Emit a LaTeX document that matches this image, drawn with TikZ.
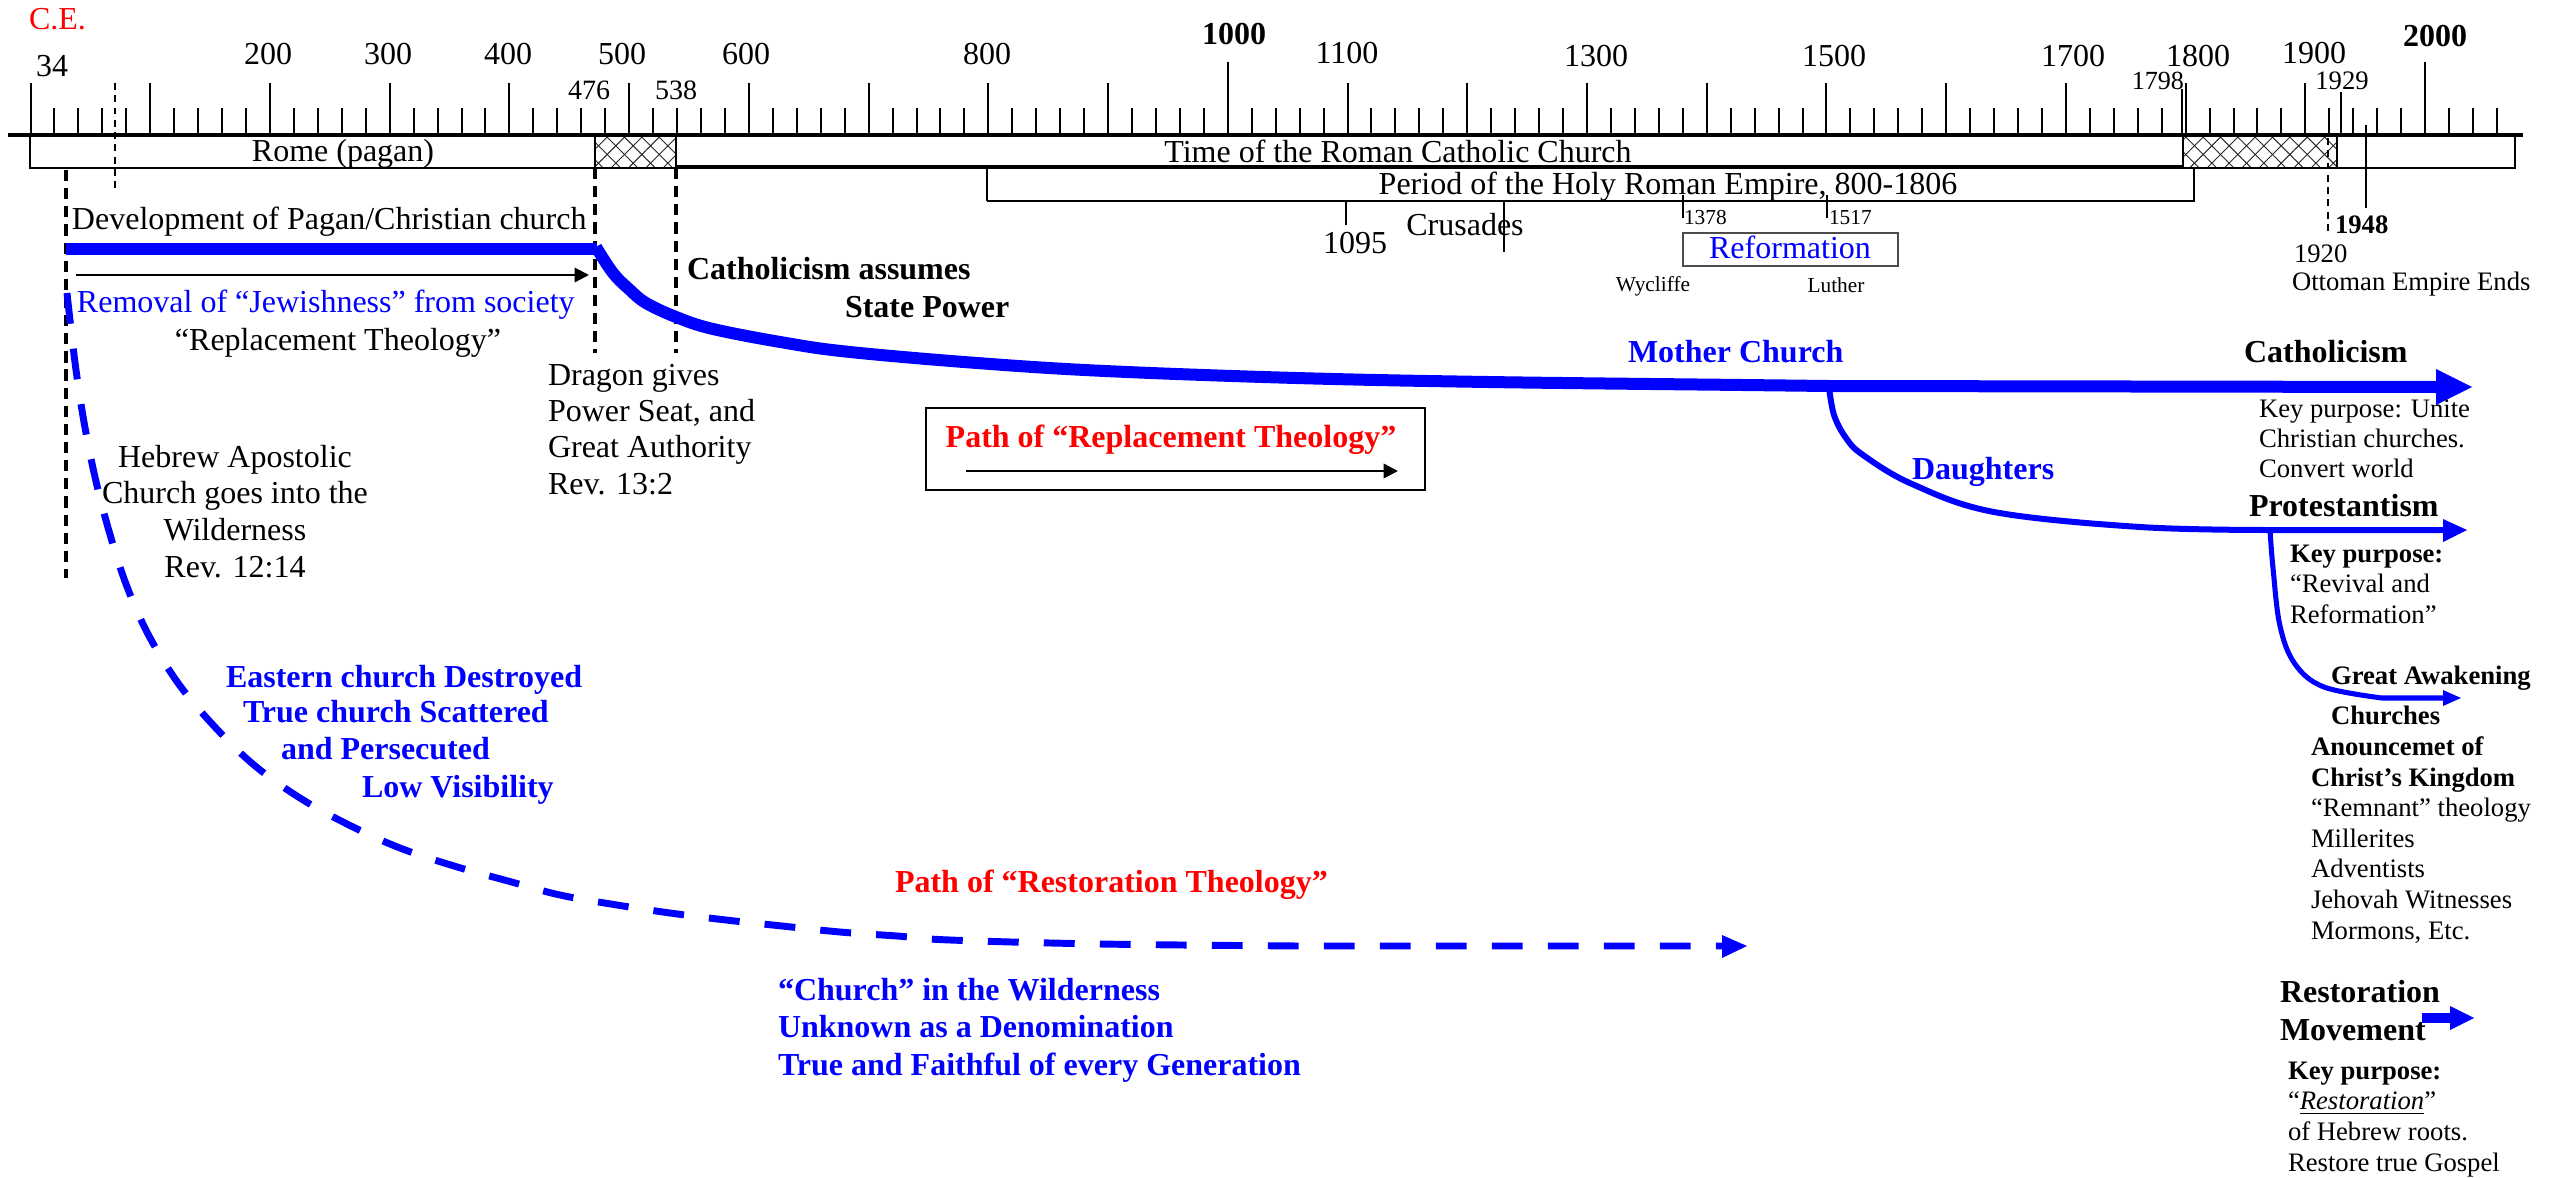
\documentclass[tikz,border=0pt]{standalone}
\usepackage{fontspec}
\setmainfont{Liberation Serif}
\usetikzlibrary{patterns.meta,arrows.meta}
\definecolor{pblue}{RGB}{0,0,255}
\definecolor{pred}{RGB}{255,0,0}
\begin{document}
\begin{tikzpicture}[x=0.375pt,y=-0.375pt,
  every node/.style={inner sep=0pt,outer sep=0pt},
  fA/.style={font=\fontsize{12}{13.8}\selectfont},
  fAb/.style={font=\fontsize{12}{13.8}\selectfont\bfseries},
  fB/.style={font=\fontsize{10}{11.4}\selectfont},
  fBb/.style={font=\fontsize{10}{11.4}\selectfont\bfseries},
  fN/.style={font=\fontsize{10.5}{12}\selectfont},
  fC/.style={font=\fontsize{8}{9.6}\selectfont},
  tick/.style={line width=0.75pt},
  thin/.style={line width=0.4pt},
  bdash/.style={line width=1.3pt,dash pattern=on 4.2pt off 2.6pt},
  hatchA/.style={pattern={Lines[angle=45,distance=4.6pt,line width=0.35pt]},pattern color=black!85},
  hatchB/.style={pattern={Lines[angle=-45,distance=4.6pt,line width=0.35pt]},pattern color=black!85},
  arr/.style={line width=0.8pt,-{Triangle[length=5.4pt,width=5.4pt]}},
]
\useasboundingbox (0,0) rectangle (2561,1178);

% ---------- timeline boxes ----------
\draw[line width=0.6pt] (30,135) rectangle (595,168);
\fill[hatchA] (595,135) rectangle (676,168);
\fill[hatchB] (595,135) rectangle (676,168);
\draw[line width=1.1pt] (595,135) rectangle (676,168);
\draw[line width=1.3pt] (676,167) -- (2183,167);
\fill[hatchA] (2183,135) rectangle (2337,168);
\fill[hatchB] (2183,135) rectangle (2337,168);
\draw[line width=1.1pt] (2183,135) rectangle (2337,168);
\draw[line width=1.1pt] (2337,135) rectangle (2515,168);
% Holy Roman Empire box
\draw[line width=0.6pt] (987,168) -- (987,201);
\draw[line width=1pt] (987,201) -- (2194,201) -- (2194,168);

% ---------- ticks ----------
\foreach \yr in {0,20,...,2060}{
  \pgfmathtruncatemacro{\mm}{mod(\yr,100)}
  \pgfmathsetmacro{\tktop}{ifthenelse(\mm==0,83,108)}
  \draw[tick] ({30.5+1.1973*\yr},\tktop) -- ({30.5+1.1973*\yr},135);
}
\draw[tick] ({30.5+1.1973*1000},62) -- ({30.5+1.1973*1000},135);
\draw[tick] ({30.5+1.1973*2000},62) -- ({30.5+1.1973*2000},135);
\draw[line width=1.3pt] (8,135) -- (2523,135);

% thin marker lines
\draw[thin] (2182,89) -- (2182,135);
\draw[thin] (2341,92) -- (2341,135);
\draw[line width=0.5pt] (2366,125) -- (2366,208);
\draw[line width=0.45pt,dash pattern=on 2.6pt off 2pt] (2328,138) -- (2328,232);
\draw[line width=0.45pt,dash pattern=on 2.6pt off 2pt] (115,83) -- (115,192);
\draw[thin] (1346,201) -- (1346,225);
\draw[thin] (1504,202) -- (1504,252);
\draw[thin] (1683,195) -- (1683,218);
\draw[thin] (1827,195) -- (1827,218);
\draw[line width=0.5pt,black!70] (1683,233) rectangle (1898,266);

% ---------- year labels ----------
\node[fA,text=pred,anchor=base west] (ce) at (29,30) {C.E.};
\node[fA,anchor=base west] (y34) at (36,76) {34};
\node[fA,anchor=base] (y200) at (268,65) {200};
\node[fA,anchor=base] (y300) at (388,65) {300};
\node[fA,anchor=base] (y400) at (508,65) {400};
\node[fA,anchor=base] (y500) at (622,65) {500};
\node[fA,anchor=base] (y600) at (746,65) {600};
\node[fA,anchor=base] (y800) at (987,64) {800};
\node[fAb,anchor=base] (y1000) at (1234,44) {1000};
\node[fA,anchor=base] (y1100) at (1347,63) {1100};
\node[fA,anchor=base] (y1300) at (1596,66) {1300};
\node[fA,anchor=base] (y1500) at (1834,67) {1500};
\node[fA,anchor=base] (y1700) at (2073,67) {1700};
\node[fA,anchor=base] (y1800) at (2198,66) {1800};
\node[fA,anchor=base] (y1900) at (2314,63) {1900};
\node[fAb,anchor=base] (y2000) at (2435,46) {2000};
\node[fN,anchor=base] (y476) at (589,100) {476};
\node[fN,anchor=base] (y538) at (676,100) {538};
\node[font=\fontsize{9.8}{11}\selectfont,anchor=base east] (y1798) at (2184,89) {1798};
\node[fB,anchor=base] (y1929) at (2342,89) {1929};

% ---------- box labels ----------
\node[fA,anchor=base] (rome) at (343,161) {Rome (pagan)};
\node[fA,anchor=base] (rcc) at (1398,162) {Time of the Roman Catholic Church};
\node[fA,anchor=base] (hre) at (1668,194) {Period of the Holy Roman Empire, 800-1806};
\node[fA,anchor=base] (y1095) at (1355,253) {1095};
\node[fA,anchor=base] (crus) at (1465,235) {Crusades};
\node[fC,anchor=base west] (y1378) at (1684,224) {1378};
\node[fC,anchor=base west] (y1517) at (1829,224) {1517};
\node[fA,text=pblue,anchor=base] (reform) at (1790,258) {Reformation};
\node[fC,anchor=base] (wyc) at (1653,291) {Wycliffe};
\node[fC,anchor=base] (luth) at (1836,292) {Luther};
\node[fBb,anchor=base west] (y1948) at (2335,233) {1948};
\node[fB,anchor=base west] (y1920) at (2294,262) {1920};
\node[fB,anchor=base west] (ott) at (2292,290) {Ottoman Empire Ends};

% ---------- vertical dashed lines ----------
\draw[bdash] (66,170) -- (66,578);
\draw[bdash] (595,168) -- (595,353);
\draw[bdash] (676,168) -- (676,353);

% ---------- blue paths ----------
\draw[pblue,line width=4.5pt] (66,249) -- (597,249);
\draw[pblue,line width=4.5pt] plot[smooth,tension=0.6] coordinates {(596,247) (613,273) (630,290) (646,303) (676,317) (713,329) (786,343) (850,352) (977,363) (1105,371) (1296,378) (1488,382) (1743,385) (1829,386)} -- (2437,387);
\fill[pblue] (2436,369) -- (2472,387) -- (2436,405) -- cycle;

\draw[pblue,line width=2.25pt] plot[smooth,tension=0.6] coordinates {(1829,387) (1834,415) (1846,438) (1863,455) (1912,484) (1994,512) (2140,527) (2266,530)} -- (2444,530);
\fill[pblue] (2443,519) -- (2467,530) -- (2443,542) -- cycle;

\draw[pblue,line width=1.9pt] plot[smooth,tension=0.6] coordinates {(2270,530) (2273,568) (2280,626) (2295,664) (2324,687) (2382,698)} -- (2444,698);
\fill[pblue] (2443,690) -- (2461,698) -- (2443,706) -- cycle;

\fill[pblue] (2422,1013) rectangle (2451,1023);
\fill[pblue] (2450,1006) -- (2474,1018) -- (2450,1030) -- cycle;

\draw[pblue,line width=2.6pt,dash pattern=on 11.6pt off 9.4pt] plot[smooth,tension=0.6] coordinates {(67,293) (70,320) (76,370) (84,422) (95,477) (109,531) (126,584) (148,634) (178,683) (214,726) (254,765) (300,798) (349,825) (400,848) (454,866) (508,881) (560,895) (617,905) (670,913) (726,920) (782,926) (840,932) (897,936) (950,940) (1100,944) (1300,946)} -- (1722,946);
\fill[pblue] (1722,935) -- (1747,946) -- (1722,958) -- cycle;

% ---------- black arrows ----------
\coordinate (a1s) at (76,275);
\coordinate (a1e) at (589,275);
\draw[arr] (a1s) -- (a1e);
\draw[line width=0.9pt] (926,408) rectangle (1425,490);
\coordinate (a2s) at (966,471);
\coordinate (a2e) at (1398,471);
\draw[arr,line width=0.9pt] (a2s) -- (a2e);

% ---------- texts (multi-line nodes: base = last line) ----------
\node[fA,anchor=base west] (dev) at (72,229) {Development of Pagan/Christian church};
\node[fA,text=pblue,anchor=base west] (remov) at (77,312) {Removal of “Jewishness” from society};
\node[fA,anchor=base] (repl) at (338,350) {“Replacement Theology”};
\node[font=\fontsize{12}{13.75}\selectfont,align=center,anchor=base] (hebr) at (235,577) {Hebrew Apostolic\\Church goes into the\\Wilderness\\Rev. 12:14};
\node[font=\fontsize{12}{13.6}\selectfont,align=left,anchor=base west] (drag) at (548,494) {Dragon gives\\Power Seat, and\\Great Authority\\Rev. 13:2};
\node[fAb,anchor=base west] (cathas) at (687,279) {Catholicism assumes};
\node[fAb,anchor=base west] (state) at (845,317) {State Power};
\node[fAb,text=pred,anchor=base] (pathrep) at (1171,447) {Path of “Replacement Theology”};
\node[fAb,text=pblue,anchor=base west] (mother) at (1628,362) {Mother Church};
\node[fAb,anchor=base west] (cath) at (2244,362) {Catholicism};
\node[font=\fontsize{10}{11.25}\selectfont,align=left,anchor=base west] (kp1) at (2259,477) {Key purpose: Unite\\Christian churches.\\Convert world};
\node[fAb,text=pblue,anchor=base west] (daught) at (1912,479) {Daughters};
\node[fAb,anchor=base west] (prot) at (2249,516) {Protestantism};
\node[font=\fontsize{10}{11.4}\selectfont,align=left,anchor=base west] (kp2) at (2290,623) {\textbf{Key purpose:}\\“Revival and\\Reformation”};
\node[fBb,anchor=base west] (great) at (2331,684) {Great Awakening};
\node[fBb,anchor=base west] (churches) at (2331,724) {Churches};
\node[font=\fontsize{10}{11.45}\selectfont,align=left,anchor=base west] (anoun) at (2311,939) {\textbf{Anouncemet of}\\\textbf{Christ’s Kingdom}\\“Remnant” theology\\Millerites\\Adventists\\Jehovah Witnesses\\Mormons, Etc.};
\node[font=\fontsize{12}{14.25}\selectfont\bfseries,align=left,anchor=base west] (restm) at (2280,1040) {Restoration\\Movement};
\node[font=\fontsize{10}{11.5}\selectfont,align=left,anchor=base west] (kp3) at (2288,1171) {\textbf{Key purpose:}\\“\underline{\textit{Restoration}}”\\of Hebrew roots.\\Restore true Gospel};
\node[fAb,text=pblue,anchor=base west] (east1) at (226,687) {Eastern church Destroyed};
\node[fAb,text=pblue,anchor=base west] (east2) at (243,722) {True church Scattered};
\node[fAb,text=pblue,anchor=base west] (east3) at (281,759) {and Persecuted};
\node[fAb,text=pblue,anchor=base west] (east4) at (362,797) {Low Visibility};
\node[fAb,text=pred,anchor=base west] (pathres) at (895,892) {Path of “Restoration Theology”};
\node[font=\fontsize{12}{13.9}\selectfont\bfseries,text=pblue,align=left,anchor=base west] (wild) at (778,1075) {“Church” in the Wilderness\\Unknown as a Denomination\\True and Faithful of every Generation};
\end{tikzpicture}
\end{document}
